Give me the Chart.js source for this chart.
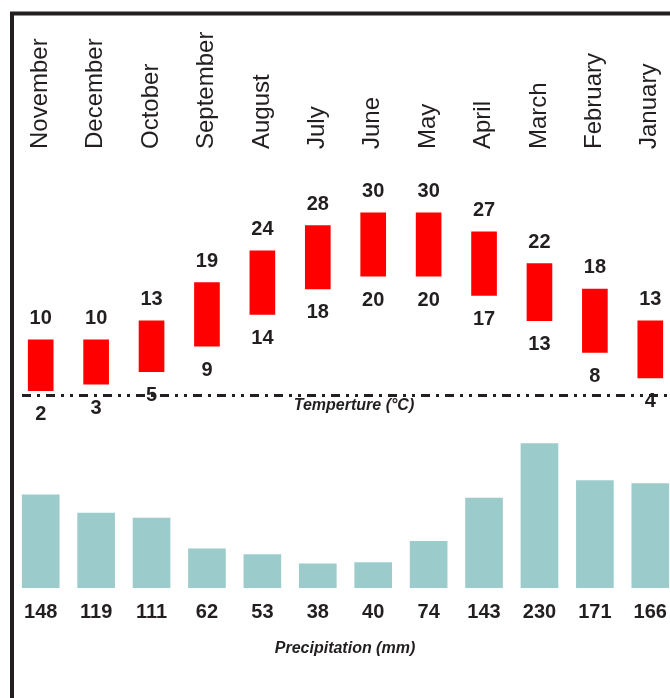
<!DOCTYPE html>
<html lang="en">
<head>
  <meta charset="UTF-8">
  <title>Climate chart</title>
  <script src="https://cdn.jsdelivr.net/npm/chart.js"></script>
  <style>
    html, body { margin: 0; padding: 0; background: #fff; overflow: hidden; }
    canvas { display: block; }
  </style>
</head>
<body>
  <canvas id="climateChart" width="678" height="698"></canvas>

  <script>
    // Data (months in the original order)
    const months = ['November', 'December', 'October', 'September', 'August', 'July',
                    'June', 'May', 'April', 'March', 'February', 'January'];
    const tempMin = [2, 3, 5, 9, 14, 18, 20, 20, 17, 13, 8, 4];
    const tempMax = [10, 10, 13, 19, 24, 28, 30, 30, 27, 22, 18, 13];
    const precip = [148, 119, 111, 62, 53, 38, 40, 74, 143, 230, 171, 166];

    const textColor = '#231f20';
    const font = '"Liberation Sans", Arial, sans-serif';

    // Texts, frame and dotted line drawn on top of the bars
    const decorations = {
      id: 'decorations',
      afterDatasetsDraw(chart) {
        const c = chart.ctx;
        const yT = chart.scales.yT;
        const yP = chart.scales.yP;
        const tBars = chart.getDatasetMeta(0).data;
        const pBars = chart.getDatasetMeta(1).data;
        c.save();
        c.fillStyle = textColor;
        c.textAlign = 'center';
        c.textBaseline = 'middle';

        // month names, rotated
        c.font = '24px ' + font;
        months.forEach((m, i) => {
          c.save();
          c.translate(tBars[i].x - 0.5, 149);
          c.rotate(-Math.PI / 2);
          c.textAlign = 'left';
          c.fillText(m, 0, 0);
          c.restore();
        });

        // temperature values
        c.font = 'bold 20px ' + font;
        tBars.forEach((bar, i) => {
          c.fillText(tempMax[i], bar.x, yT.getPixelForValue(tempMax[i]) - 21);
          c.fillText(tempMin[i], bar.x, yT.getPixelForValue(tempMin[i]) + 24);
        });

        // precipitation values
        pBars.forEach((bar, i) => {
          c.fillText(precip[i], bar.x, yP.getPixelForValue(0) + 25);
        });

        // dash-dot line under the temperature bars
        c.strokeStyle = textColor;
        c.lineWidth = 3;
        c.setLineDash([9, 6, 3, 6, 9, 6, 3, 6, 3, 6]);
        c.beginPath();
        c.moveTo(22, 395.5);
        c.lineTo(chart.width, 395.5);
        c.stroke();
        c.setLineDash([]);

        // axis titles
        c.font = 'italic bold 16px ' + font;
        c.fillText('Temperture (°C)', 354, 406);
        c.fillText('Precipitation (mm)', 345, 649);

        // frame
        c.lineWidth = 4;
        c.beginPath();
        c.moveTo(12, chart.height);
        c.lineTo(12, 13.5);
        c.lineTo(chart.width, 13.5);
        c.stroke();
        c.restore();
      }
    };

    const ctx = document.getElementById('climateChart').getContext('2d');
    const climateChart = new Chart(ctx, {
      type: 'bar',
      data: {
        labels: months,
        datasets: [
          {
            label: 'Temperature (°C)',
            data: tempMin.map((v, i) => [v, tempMax[i]]),
            backgroundColor: '#ff0000',
            yAxisID: 'yT',
            barThickness: 25,
            grouped: false,
            borderWidth: 0
          },
          {
            label: 'Precipitation (mm)',
            data: precip,
            backgroundColor: '#9ccbcb',
            yAxisID: 'yP',
            barThickness: 37,
            grouped: false,
            borderWidth: 0
          }
        ]
      },
      options: {
        responsive: false,
        animation: false,
        devicePixelRatio: 1,
        layout: { padding: { left: 13, right: 0, top: 0, bottom: 0 } },
        plugins: {
          legend: { display: false },
          tooltip: { enabled: false }
        },
        scales: {
          x: { display: false, offset: true },
          yT: { display: false, min: -46.4, max: 63.5 },
          yP: { display: false, min: -175.9, max: 937.3 }
        }
      },
      plugins: [decorations]
    });
  </script>
</body>
</html>
